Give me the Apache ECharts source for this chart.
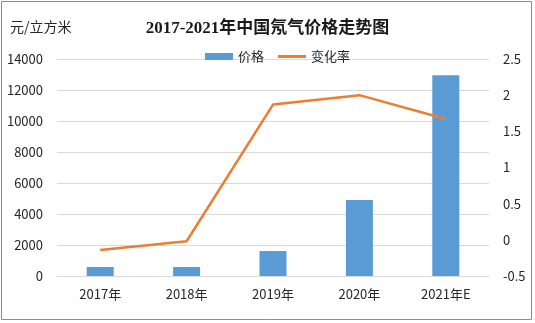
<!DOCTYPE html>
<html>
<head>
<meta charset="utf-8">
<script src="https://cdn.jsdelivr.net/npm/echarts@6/dist/echarts.min.js"></script>
<style>html,body{margin:0;padding:0;background:#fff;}#c{width:535px;height:323px;}</style>
</head>
<body>
<div id="c"></div>
<script>
var categories = ['2017年', '2018年', '2019年', '2020年', '2021年E'];
var priceValues = [580, 580, 1610, 4900, 12950];
var changeValues = [-0.14, -0.02, 1.87, 2.0, 1.67];
var leftTicks = {min: 0, max: 14000, interval: 2000};
var rightTicks = {min: -0.5, max: 2.5, interval: 0.5};

var chart = echarts.init(document.getElementById('c'), null, {renderer: 'canvas'});
var font = '"Noto Sans CJK SC", "Microsoft YaHei", sans-serif';
var txt = '#262626';
chart.setOption({
  animation: false,
  backgroundColor: '#fff',
  title: {
    text: '2017-2021年中国氖气价格走势图',
    left: 'center',
    top: 15,
    textStyle: {fontFamily: '"Liberation Serif", "Noto Sans CJK SC", serif', fontWeight: 'bold', fontSize: 17, color: '#1a1a1a'}
  },
  graphic: [
    {type: 'rect', shape: {x: 1.5, y: 1.5, width: 530, height: 318}, style: {fill: 'none', stroke: '#8c8c8c', lineWidth: 1}, silent: true},
    {type: 'text', left: 10, top: 20, style: {text: '元/立方米', font: '14px ' + font, fill: txt}}
  ],
  legend: {
    left: 200,
    top: 45,
    itemWidth: 28,
    itemHeight: 7,
    itemGap: 14,
    symbolKeepAspect: true,
    textStyle: {fontFamily: font, fontSize: 13, color: txt},
    data: [{name: '价格', icon: 'rect'}, {name: '变化率', icon: 'path://M0,0L28,0L28,3L0,3Z'}]
  },
  grid: {left: 57, right: 46, top: 59, bottom: 47, containLabel: false},
  xAxis: {
    type: 'category',
    data: categories,
    axisLine: {show: true, lineStyle: {color: '#d9d9d9'}},
    axisTick: {show: false},
    axisLabel: {fontFamily: font, fontSize: 13, color: txt, margin: 12}
  },
  yAxis: [
    {
      type: 'value', min: leftTicks.min, max: leftTicks.max, interval: leftTicks.interval,
      axisLine: {show: false}, axisTick: {show: false},
      splitLine: {lineStyle: {color: '#d9d9d9'}},
      axisLabel: {fontFamily: font, fontSize: 13, color: txt, margin: 14, formatter: function (v) { return String(v); }}
    },
    {
      type: 'value', min: rightTicks.min, max: rightTicks.max, interval: rightTicks.interval,
      axisLine: {show: false}, axisTick: {show: false},
      splitLine: {show: false},
      axisLabel: {fontFamily: font, fontSize: 13, color: txt, margin: 14, formatter: function (v) { return String(v); }}
    }
  ],
  series: [
    {
      name: '价格', type: 'bar', data: priceValues, barWidth: 27,
      itemStyle: {color: '#5B9BD5'}
    },
    {
      name: '变化率', type: 'line', yAxisIndex: 1, data: changeValues,
      symbol: 'none', lineStyle: {color: '#ED7D31', width: 2.5}, itemStyle: {color: '#ED7D31'}
    }
  ]
});
</script>
</body>
</html>
